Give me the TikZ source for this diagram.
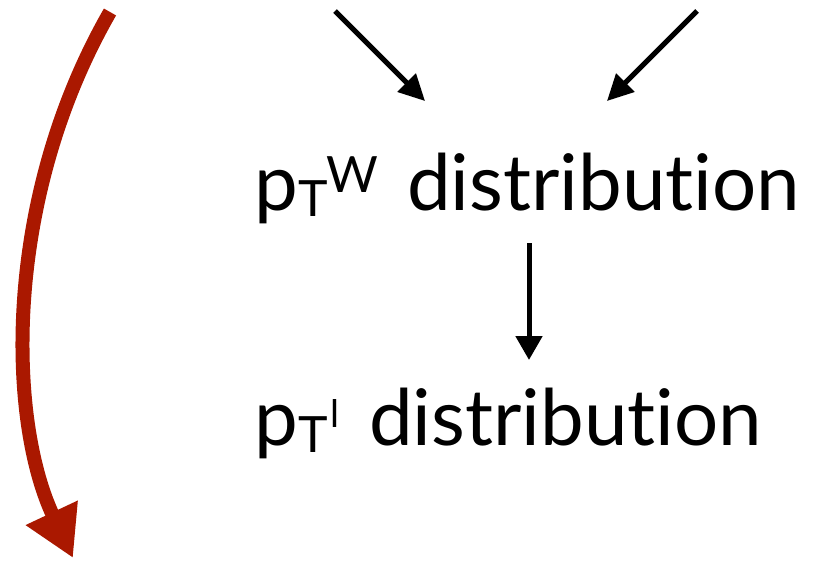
\documentclass[tikz,border=0pt]{standalone}
\usepackage{fontspec}
\setmainfont{Lato}[Ligatures={NoCommon,NoRequired,NoContextual}]
\usetikzlibrary{arrows.meta}
\definecolor{arrowred}{RGB}{170,24,0}
\newlength\dlen
\settowidth\dlen{\fontsize{10pt}{10pt}\selectfont distribution}
\pgfmathsetmacro\mainfs{393/\dlen*10}
\tikzset{
  txt/.style={anchor=base west, inner sep=0pt, font=\fontsize{\mainfs pt}{\mainfs pt}\selectfont},
  subtxt/.style={anchor=base west, inner sep=0pt, font=\fontsize{50pt}{50pt}\selectfont},
  suptxt/.style={anchor=base west, inner sep=0pt, font=\fontsize{38pt}{38pt}\selectfont},
  blackarrow/.style={line width=5pt, -{Triangle[length=26pt,width=25pt]}},
  redarrow/.style={draw=arrowred, line width=14pt, -{Triangle[length=50pt,width=54pt]}, arrowred}
}
\begin{document}
\begin{tikzpicture}[x=1pt,y=-1pt]
\useasboundingbox (0,0) rectangle (828,562);
% line 1
\node[txt] (p1) at (254,210) {p};
\node[subtxt] (T1) at (298,216) {T};
\node[subtxt] (W1) at (326,192) {W};
\node[txt] (d1) at (407,210) {distribution};
% line 2
\node[txt] (p2) at (254,445) {p};
\node[subtxt] (T2) at (298,452) {T};
\node[suptxt] (l2) at (330,427) {l};
\node[txt] (d2) at (369,445) {distribution};
% coordinates
\coordinate (a1s) at (335,11);
\coordinate (a1e) at (425,101);
\coordinate (a2s) at (697,11);
\coordinate (a2e) at (607,101);
\coordinate (vs) at (529,243);
\coordinate (ve) at (529,360);
\coordinate (rs) at (110,12);
\coordinate (re) at (73,558);
% arrows
\draw[blackarrow] (a1s) -- (a1e);
\draw[blackarrow] (a2s) -- (a2e);
\draw[line width=5pt, -{Triangle[length=24pt,width=26pt]}] (vs) -- (ve);
\draw[redarrow] (rs) .. controls (2,200) and (8,420) .. (re);
\end{tikzpicture}
\end{document}
